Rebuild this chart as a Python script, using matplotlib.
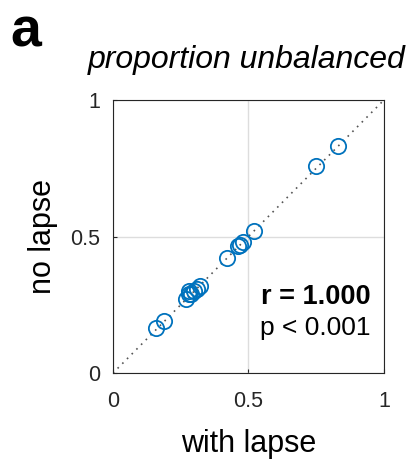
import numpy as np
import matplotlib.pyplot as plt

plt.rcParams['font.family'] = ['Liberation Sans', 'DejaVu Sans']

# proporcie neechilibrata: cu lapse vs fara lapse
with_lapse = [0.16, 0.19, 0.27, 0.28, 0.28, 0.29, 0.30, 0.31, 0.32, 0.42, 0.46, 0.47, 0.48, 0.52, 0.75, 0.83]
no_lapse = [0.165, 0.19, 0.27, 0.29, 0.30, 0.29, 0.30, 0.31, 0.32, 0.42, 0.465, 0.47, 0.48, 0.52, 0.76, 0.83]
ticks = [0, 0.5, 1]
tick_labels = ['0', '0.5', '1']

fig = plt.figure(figsize=(4.15, 4.59), dpi=100)
ax = fig.add_axes([0.272, 0.187, 0.653, 0.595])

ax.plot([0, 1], [0, 1], linestyle=(0, (1, 3)), color='#555555', lw=1.2, zorder=1)
ax.plot(with_lapse, no_lapse, 'o', mfc='none', mec='#0072BD', mew=1.3, ms=11, zorder=2)

ax.set_xlim(0, 1)
ax.set_ylim(0, 1)
ax.set_xticks(ticks)
ax.set_yticks(ticks)
ax.set_xticklabels(tick_labels)
ax.set_yticklabels(tick_labels)
ax.tick_params(direction='in', length=3, labelsize=15.5, colors='#262626')
ax.tick_params(axis='x', pad=13)
ax.tick_params(axis='y', pad=9)
ax.grid(True, color='#dddddd', lw=1)
ax.set_axisbelow(True)
for s in ax.spines.values():
    s.set_color('#262626')
    s.set_linewidth(0.8)

ax.set_xlabel('with lapse', fontsize=22, labelpad=12)
ax.set_ylabel('no lapse', fontsize=22, labelpad=9)

ax.text(0.95, 0.278, 'r = 1.000', fontsize=19.5, fontweight='bold', ha='right', va='center')
ax.text(0.95, 0.165, 'p < 0.001', fontsize=19, ha='right', va='center')

fig.text(0.595, 0.87, 'proportion unbalanced', fontsize=23, style='italic', ha='center', va='center')
fig.text(0.025, 0.93, 'a', fontsize=40, fontweight='bold', ha='left', va='center')

plt.savefig('out.png', dpi=100)
